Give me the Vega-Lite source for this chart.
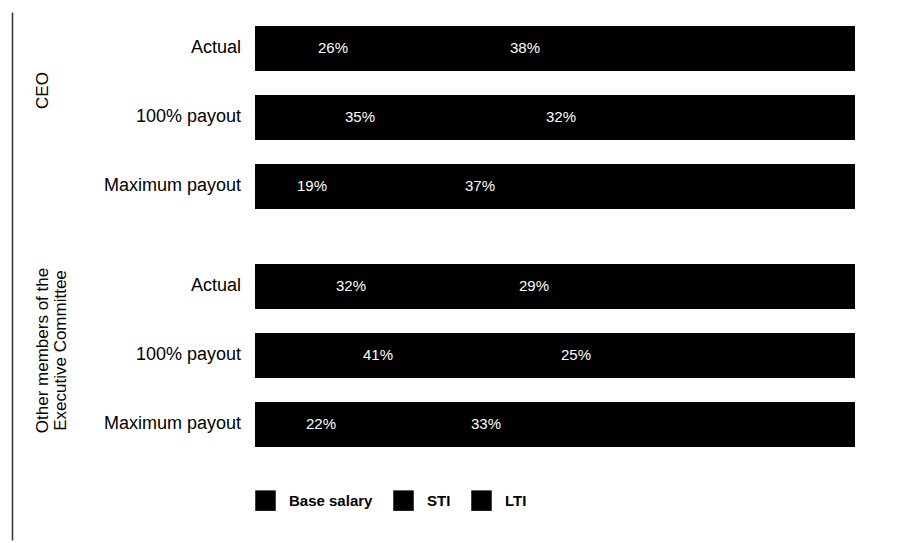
{
  "$schema": "https://vega.github.io/schema/vega-lite/v6.json",
  "width": 600,
  "height": 528,
  "padding": {"left": 12, "top": 12, "right": 5, "bottom": 3},
  "config": {
    "view": {"stroke": null},
    "font": "Liberation Sans",
    "text": {"font": "Liberation Sans"}
  },
  "data": {
    "values": [
      {"group": "CEO", "scenario": "Actual", "component": "Base salary", "value": 26},
      {"group": "CEO", "scenario": "Actual", "component": "STI", "value": 38},
      {"group": "CEO", "scenario": "Actual", "component": "LTI", "value": 36},
      {"group": "CEO", "scenario": "100% payout", "component": "Base salary", "value": 35},
      {"group": "CEO", "scenario": "100% payout", "component": "STI", "value": 32},
      {"group": "CEO", "scenario": "100% payout", "component": "LTI", "value": 33},
      {"group": "CEO", "scenario": "Maximum payout", "component": "Base salary", "value": 19},
      {"group": "CEO", "scenario": "Maximum payout", "component": "STI", "value": 37},
      {"group": "CEO", "scenario": "Maximum payout", "component": "LTI", "value": 44},
      {"group": "Other members of the Executive Committee", "scenario": "Actual", "component": "Base salary", "value": 32},
      {"group": "Other members of the Executive Committee", "scenario": "Actual", "component": "STI", "value": 29},
      {"group": "Other members of the Executive Committee", "scenario": "Actual", "component": "LTI", "value": 39},
      {"group": "Other members of the Executive Committee", "scenario": "100% payout", "component": "Base salary", "value": 41},
      {"group": "Other members of the Executive Committee", "scenario": "100% payout", "component": "STI", "value": 25},
      {"group": "Other members of the Executive Committee", "scenario": "100% payout", "component": "LTI", "value": 34},
      {"group": "Other members of the Executive Committee", "scenario": "Maximum payout", "component": "Base salary", "value": 22},
      {"group": "Other members of the Executive Committee", "scenario": "Maximum payout", "component": "STI", "value": 33},
      {"group": "Other members of the Executive Committee", "scenario": "Maximum payout", "component": "LTI", "value": 45}
    ]
  },
  "transform": [
    {"stack": "value", "groupby": ["group", "scenario"], "as": ["x0", "x1"]},
    {"calculate": "(datum.x0 + datum.x1) / 2", "as": "xm"},
    {"calculate": "datum.value + '%'", "as": "label"},
    {"calculate": "datum.scenario == '100% payout' ? datum.scenario + '\u00a0' : datum.scenario", "as": "scenarioLabel"}
  ],
  "encoding": {
    "y": {
      "field": "group",
      "type": "nominal",
      "scale": {
        "domain": ["CEO", "Other members of the Executive Committee"],
        "paddingInner": 0.1303,
        "paddingOuter": 0.1744,
        "align": 0.024
      },
      "axis": {
        "title": null,
        "orient": "left",
        "offset": 243,
        "domain": true,
        "domainColor": "#333333",
        "domainWidth": 1.5,
        "ticks": false,
        "tickSize": 0,
        "grid": false,
        "labelAngle": -90,
        "labelAlign": "center",
        "labelBaseline": "middle",
        "labelFontSize": 17,
        "labelColor": "#000000",
        "labelLineHeight": 18,
        "labelFont": "Liberation Sans",
        "labelExpr": "datum.value == 'CEO' ? 'CEO' : ['Other members of the', 'Executive Committee']",
        "labelPadding": -30,
        "labelOffset": {"condition": {"test": "datum.value == 'CEO'", "value": -27}, "value": -5}
      }
    },
    "yOffset": {
      "field": "scenario",
      "type": "nominal",
      "scale": {
        "domain": ["Actual", "100% payout", "Maximum payout"],
        "paddingInner": 0.35,
        "paddingOuter": 0.175
      }
    }
  },
  "layer": [
    {
      "mark": {"type": "bar"},
      "encoding": {
        "x": {"field": "x0", "type": "quantitative", "scale": {"domain": [0, 100], "nice": false}, "axis": null},
        "x2": {"field": "x1"},
        "color": {
          "field": "component",
          "type": "nominal",
          "scale": {"domain": ["Base salary", "STI", "LTI"], "range": ["#000000", "#000000", "#000000"]},
          "legend": {
            "title": null,
            "orient": "none",
            "legendX": 0,
            "legendY": 478,
            "direction": "horizontal",
            "symbolType": "square",
            "symbolSize": 420,
            "symbolStrokeWidth": 0,
            "symbolOpacity": 1,
            "labelFontSize": 15,
            "labelFontWeight": "bold",
            "labelColor": "#000000",
            "labelFont": "Liberation Sans",
            "labelOffset": 13,
            "columnPadding": 20,
            "padding": 0
          }
        }
      }
    },
    {
      "transform": [{"filter": "datum.component != 'LTI'"}],
      "mark": {"type": "text", "color": "#ffffff", "fontSize": 15, "align": "center", "baseline": "middle"},
      "encoding": {
        "x": {"field": "xm", "type": "quantitative"},
        "text": {"field": "label"}
      }
    },
    {
      "transform": [{"filter": "datum.component == 'Base salary'"}],
      "mark": {"type": "text", "color": "#000000", "fontSize": 18, "align": "right", "baseline": "middle", "dx": -14},
      "encoding": {
        "x": {"datum": 0, "type": "quantitative"},
        "text": {"field": "scenarioLabel"}
      }
    }
  ]
}
